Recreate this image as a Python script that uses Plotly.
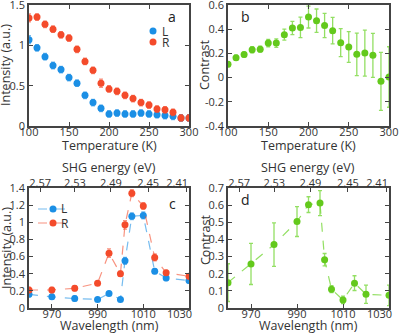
import plotly.graph_objects as go

# ---------- data ----------
temperature = [100, 110, 120, 130, 140, 150, 160, 170, 180, 190, 200,
               210, 220, 230, 240, 250, 260, 270, 280, 290, 300]
int_L = [1.07, 0.97, 0.86, 0.75, 0.70, 0.60, 0.53, 0.38, 0.29, 0.22, 0.15,
         0.16, 0.15, 0.15, 0.16, 0.15, 0.14, 0.13, 0.12, 0.10, 0.10]
int_L_err = [0.05, 0.04, 0.04, 0.04, 0.04, 0.04, 0.04, 0.04, 0.04, 0.04, 0.04,
             0.04, 0.04, 0.04, 0.04, 0.04, 0.04, 0.04, 0.04, 0.04, 0.04]
int_R = [1.34, 1.35, 1.26, 1.20, 1.13, 1.09, 0.95, 0.80, 0.69, 0.53, 0.46,
         0.43, 0.38, 0.34, 0.29, 0.26, 0.21, 0.20, 0.17, 0.10, 0.10]
int_R_err = [0.05, 0.04, 0.04, 0.04, 0.04, 0.04, 0.04, 0.04, 0.04, 0.05, 0.04,
             0.04, 0.04, 0.04, 0.04, 0.04, 0.04, 0.04, 0.04, 0.04, 0.04]
contrast_T = [0.11, 0.165, 0.19, 0.23, 0.235, 0.285, 0.285, 0.355, 0.41, 0.415, 0.50,
              0.47, 0.43, 0.388, 0.289, 0.253, 0.192, 0.203, 0.184, -0.031, 0.005]
contrast_T_err = [0.02, 0.02, 0.02, 0.025, 0.025, 0.03, 0.035, 0.045, 0.055, 0.085, 0.09,
                  0.097, 0.10, 0.11, 0.115, 0.127, 0.175, 0.19, 0.182, 0.24, 0.25]

wavelength = [960, 970, 980, 990, 995, 1000, 1002, 1005, 1010, 1015, 1020, 1030]
wl_L = [0.16, 0.13, 0.11, 0.10, 0.17, 0.10, 0.55, 1.07, 1.08, 0.43, 0.35, 0.32]
wl_L_err = [0.03, 0.03, 0.03, 0.02, 0.02, 0.02, 0.04, 0.04, 0.04, 0.03, 0.03, 0.03]
wl_R = [0.21, 0.21, 0.23, 0.29, 0.64, 0.40, 0.97, 1.34, 1.19, 0.59, 0.41, 0.37]
wl_R_err = [0.03, 0.03, 0.03, 0.02, 0.05, 0.03, 0.05, 0.04, 0.04, 0.04, 0.03, 0.03]
contrast_wl = [0.148, 0.257, 0.37, 0.504, 0.603, 0.612, 0.282, 0.11, 0.047, 0.145, 0.08, 0.074]
contrast_wl_err = [0.11, 0.12, 0.127, 0.087, 0.046, 0.073, 0.036, 0.02, 0.022, 0.043, 0.053, 0.06]

shg_energy_ticks = [2.57, 2.53, 2.49, 2.45, 2.41]
wl_ticks = [970, 990, 1010, 1030]
temp_ticks = [100, 150, 200, 250, 300]
series_names = ["L", "R"]

# ---------- styles ----------
W, H = 399, 333
BLUE = "#1b8fe5"
RED = "#f44b2b"
GREEN = "#63c91c"
BLUE_E = "rgba(27,143,229,0.6)"
RED_E = "rgba(244,75,43,0.6)"
GREEN_E = "rgba(120,215,60,0.8)"
FONT = "Open Sans"
AX = "#444444"
TXT = "#333333"
PAD = "\u2007\u2007\u2007"  # keeps the last edge label inside the figure


def px(x):
    return x / W


def py(y):
    return 1 - y / H


def wl_from_energy(e):
    return 2 * 1239.84 / e


def err(arr, col):
    return dict(type="data", array=arr, color=col, thickness=1.3, width=2)


fig = go.Figure()

# panel a
fig.add_trace(go.Scatter(x=temperature, y=int_L, mode="markers", name=" ",
                         marker=dict(color=BLUE, size=7), error_y=err(int_L_err, BLUE_E),
                         xaxis="x", yaxis="y", legend="legend"))
fig.add_trace(go.Scatter(x=temperature, y=int_R, mode="markers", name=" ",
                         marker=dict(color=RED, size=7), error_y=err(int_R_err, RED_E),
                         xaxis="x", yaxis="y", legend="legend3"))
# panel b
fig.add_trace(go.Scatter(x=temperature, y=contrast_T, mode="markers", showlegend=False,
                         marker=dict(color=GREEN, size=7), error_y=err(contrast_T_err, GREEN_E),
                         xaxis="x2", yaxis="y2"))
# panel c
fig.add_trace(go.Scatter(x=wavelength, y=wl_L, mode="lines+markers", name=" ",
                         line=dict(color=BLUE_E, dash="dash", width=1.2),
                         marker=dict(color=BLUE, size=7), error_y=err(wl_L_err, BLUE_E),
                         xaxis="x3", yaxis="y3", legend="legend2"))
fig.add_trace(go.Scatter(x=wavelength, y=wl_R, mode="lines+markers", name=" ",
                         line=dict(color=RED_E, dash="dash", width=1.2),
                         marker=dict(color=RED, size=7), error_y=err(wl_R_err, RED_E),
                         xaxis="x3", yaxis="y3", legend="legend4"))
# panel d
fig.add_trace(go.Scatter(x=wavelength, y=contrast_wl, mode="lines+markers", showlegend=False,
                         line=dict(color=GREEN_E, dash="dash", width=1.2),
                         marker=dict(color=GREEN, size=7), error_y=err(contrast_wl_err, GREEN_E),
                         xaxis="x4", yaxis="y4"))
# invisible traces so the top (energy) axes render
fig.add_trace(go.Scatter(x=wavelength, y=wl_L, mode="markers", opacity=0, showlegend=False,
                         hoverinfo="skip", xaxis="x5", yaxis="y3"))
fig.add_trace(go.Scatter(x=wavelength, y=contrast_wl, mode="markers", opacity=0,
                         showlegend=False, hoverinfo="skip", xaxis="x6", yaxis="y4"))

XA = [px(29), px(189)]
XB = [px(228), px(389)]
YT = [py(126), py(5)]
YB = [py(308), py(188)]


def axis(**kw):
    base = dict(showline=True, linecolor=AX, linewidth=1.5, mirror="ticks",
                ticks="inside", ticklen=4, tickcolor=AX, tickwidth=1,
                showgrid=False, zeroline=False, automargin=False,
                ticklabeloverflow="allow",
                tickfont=dict(family=FONT, size=11, color=TXT))
    base.update(kw)
    return base


def fmt(v):
    s = ("%.1f" % v)
    return s[:-2] if s.endswith(".0") else s


energy_pos = [wl_from_energy(e) for e in shg_energy_ticks]
energy_txt = ["%.2f" % e for e in shg_energy_ticks]
energy_txt[-1] = energy_txt[-1] + PAD
wl_txt = [str(v) for v in wl_ticks]
wl_txt[-1] = wl_txt[-1] + PAD

ya_ticks = [0, 0.5, 1, 1.5]
yb_ticks = [-0.4, -0.2, 0, 0.2, 0.4, 0.6]
yc_ticks = [0, 0.2, 0.4, 0.6, 0.8, 1, 1.2, 1.4]
yd_ticks = [0, 0.1, 0.2, 0.3, 0.4, 0.5, 0.6, 0.7]

leg_common = dict(bgcolor="rgba(0,0,0,0)", font=dict(family=FONT, size=12, color=TXT),
                  itemwidth=30, xanchor="left", yanchor="middle", borderwidth=0)

TITLE_FONT = dict(family=FONT, size=12.5, color=TXT)
LEG_FONT = dict(family=FONT, size=12, color=TXT)
LETTER_FONT = dict(family=FONT, size=14, color="#222")


def ann(text, x, y, angle=0, font=TITLE_FONT, xa="center", ya="middle"):
    return dict(text=text, x=px(x), y=py(y), xref="paper", yref="paper", showarrow=False,
                textangle=angle, xanchor=xa, yanchor=ya, font=font)


BOT = dict(ticklabelstandoff=-5)
TOP = dict(ticklabelstandoff=-5)

fig.update_layout(
    template="none",
    width=W, height=H,
    margin=dict(l=0, r=0, t=0, b=0, pad=0),
    paper_bgcolor="white", plot_bgcolor="white",
    font=dict(family=FONT, color=TXT),
    xaxis=axis(domain=XA, anchor="y", range=[100, 300], tickvals=temp_ticks, **BOT),
    yaxis=axis(domain=YT, anchor="x", range=[0, 1.5], tickvals=ya_ticks,
               ticktext=[fmt(v) for v in ya_ticks]),
    xaxis2=axis(domain=XB, anchor="y2", range=[100, 300], tickvals=temp_ticks, **BOT),
    yaxis2=axis(domain=YT, anchor="x2", range=[-0.4, 0.6], tickvals=yb_ticks,
                ticktext=[fmt(v) for v in yb_ticks]),
    xaxis3=axis(domain=XA, anchor="y3", range=[960, 1030], tickvals=wl_ticks,
                ticktext=wl_txt, mirror=True, **BOT),
    yaxis3=axis(domain=YB, anchor="x3", range=[0, 1.4], tickvals=yc_ticks,
                ticktext=[fmt(v) for v in yc_ticks]),
    xaxis4=axis(domain=XB, anchor="y4", range=[960, 1030], tickvals=wl_ticks,
                ticktext=wl_txt, mirror=True, **BOT),
    yaxis4=axis(domain=YB, anchor="x4", range=[0, 0.7], tickvals=yd_ticks,
                ticktext=[fmt(v) for v in yd_ticks]),
    xaxis5=axis(overlaying="x3", side="top", anchor="y3", range=[960, 1030],
                tickvals=energy_pos, ticktext=energy_txt, mirror=False, **TOP),
    xaxis6=axis(overlaying="x4", side="top", anchor="y4", range=[960, 1030],
                tickvals=energy_pos, ticktext=energy_txt, mirror=False, **TOP),
    legend=dict(x=px(133), y=py(31), **leg_common),
    legend3=dict(x=px(133), y=py(42), **leg_common),
    legend2=dict(x=px(33), y=py(209), **leg_common),
    legend4=dict(x=px(33), y=py(223), **leg_common),
    annotations=[
        ann("Temperature (K)", 109, 145),
        ann("Temperature (K)", 308, 145),
        ann("Intensity (a.u.)", 6, 65, angle=-90),
        ann("Contrast", 205, 65, angle=-90),
        ann("Wavelength (nm)", 109, 325),
        ann("Wavelength (nm)", 308, 325),
        ann("Intensity (a.u.)", 6, 248, angle=-90),
        ann("Contrast", 205, 240, angle=-90),
        ann("SHG energy (eV)", 109, 168),
        ann("SHG energy (eV)", 308, 168),
        ann(series_names[0], 160, 31, font=LEG_FONT, xa="left"),
        ann(series_names[1], 160, 42, font=LEG_FONT, xa="left"),
        ann(series_names[0], 59, 209, font=LEG_FONT, xa="left"),
        ann(series_names[1], 59, 223, font=LEG_FONT, xa="left"),
        ann("a", 172, 16, font=LETTER_FONT),
        ann("b", 245, 16, font=LETTER_FONT),
        ann("c", 172, 203, font=LETTER_FONT),
        ann("d", 245, 199, font=LETTER_FONT),
    ],
)

fig.write_html("out.html", config={"displayModeBar": False},
               post_script="document.body.style.margin='0px';")
